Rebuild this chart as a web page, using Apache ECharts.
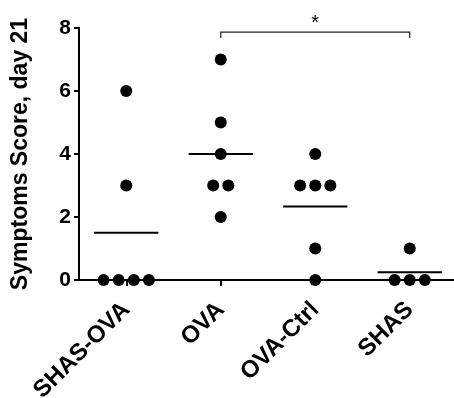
<!DOCTYPE html>
<html>
<head>
<meta charset="utf-8">
<script src="https://cdn.jsdelivr.net/npm/echarts@6/dist/echarts.min.js"></script>
<style>
  html, body { margin: 0; padding: 0; background: #fff; }
  #chart { width: 454px; height: 398px; }
</style>
</head>
<body>
<div id="chart"></div>
<script>
// Groups and individual symptom scores on day 21
const categories = ['SHAS-OVA', 'OVA', 'OVA-Ctrl', 'SHAS'];
const shasOvaScores = [6, 3, 0, 0, 0, 0];
const ovaScores = [7, 5, 4, 3, 3, 2];
const ovaCtrlScores = [4, 3, 3, 3, 1, 0];
const shasScores = [1, 0, 0, 0];
const yTicks = [0, 2, 4, 6, 8];

// Significance bracket between two groups
const sigGroups = [1, 3];
const sigLevel = 7.87;
const sigLabel = '*';

const groups = [shasOvaScores, ovaScores, ovaCtrlScores, shasScores];

// Spread tied values sideways so every animal stays visible
const JITTER_STEP = 0.16;
const points = [];
groups.forEach(function (vals, gi) {
  const counts = {};
  vals.forEach(function (v) { counts[v] = (counts[v] || 0) + 1; });
  const seen = {};
  vals.forEach(function (v) {
    const k = counts[v];
    const i = seen[v] || 0;
    seen[v] = i + 1;
    points.push([gi + (i - (k - 1) / 2) * JITTER_STEP, v]);
  });
});

const means = groups.map(function (vals, gi) {
  const s = vals.reduce(function (a, b) { return a + b; }, 0);
  return [gi, s / vals.length];
});

const FONT = '"Liberation Sans", Arial, sans-serif';
const chart = echarts.init(document.getElementById('chart'), null, { renderer: 'canvas' });

chart.setOption({
  animation: false,
  backgroundColor: '#ffffff',
  grid: { left: 79, top: 28, width: 378, height: 252, containLabel: false, outerBoundsMode: 'none' },
  xAxis: [
    {
      type: 'category',
      data: categories,
      boundaryGap: true,
      axisLine: { show: true, onZero: false, lineStyle: { color: '#000', width: 2 } },
      axisTick: { show: true, alignWithLabel: true, length: 6, lineStyle: { color: '#000', width: 2 } },
      axisLabel: {
        rotate: 45, margin: 26, color: '#000',
        fontFamily: FONT, fontWeight: 'bold', fontSize: 24, interval: 0
      },
      splitLine: { show: false }
    },
    { type: 'value', min: -0.5, max: 3.5, show: false }
  ],
  yAxis: {
    type: 'value',
    min: yTicks[0],
    max: yTicks[yTicks.length - 1],
    interval: 2,
    name: 'Symptoms Score, day 21',
    nameLocation: 'middle',
    nameGap: 47,
    nameTextStyle: { color: '#000', fontFamily: FONT, fontWeight: 'bold', fontSize: 23 },
    axisLine: { show: true, onZero: false, lineStyle: { color: '#000', width: 2 } },
    axisTick: { show: true, length: 5, lineStyle: { color: '#000', width: 2 } },
    axisLabel: { margin: 8, color: '#000', fontFamily: FONT, fontWeight: 'bold', fontSize: 21 },
    splitLine: { show: false }
  },
  series: [
    {
      type: 'scatter',
      xAxisIndex: 1,
      data: points,
      symbol: 'circle',
      symbolSize: 12,
      itemStyle: { color: '#000', opacity: 1 },
      z: 5
    },
    {
      // group means
      type: 'custom',
      xAxisIndex: 1,
      data: means,
      renderItem: function (params, api) {
        const x = api.value(0), y = api.value(1);
        const a = api.coord([x - 0.34, y]);
        const b = api.coord([x + 0.34, y]);
        return {
          type: 'line',
          shape: { x1: a[0], y1: a[1], x2: b[0], y2: b[1] },
          style: { stroke: '#000', lineWidth: 2 }
        };
      },
      z: 6
    },
    {
      // significance bracket
      type: 'custom',
      xAxisIndex: 1,
      clip: false,
      data: [[sigGroups[0], sigGroups[1], sigLevel]],
      renderItem: function (params, api) {
        const l = api.coord([api.value(0), api.value(2)]);
        const r = api.coord([api.value(1), api.value(2)]);
        const drop = 6;
        return {
          type: 'group',
          children: [
            {
              type: 'polyline',
              shape: { points: [[l[0], l[1] + drop], [l[0], l[1]], [r[0], r[1]], [r[0], r[1] + drop]] },
              style: { stroke: '#222', lineWidth: 1.2, fill: null }
            },
            {
              type: 'text',
              style: {
                x: (l[0] + r[0]) / 2, y: l[1] + 1,
                text: sigLabel, fill: '#000',
                font: '20px ' + FONT,
                align: 'center', verticalAlign: 'bottom'
              }
            }
          ]
        };
      },
      z: 4
    }
  ]
});
</script>
</body>
</html>
